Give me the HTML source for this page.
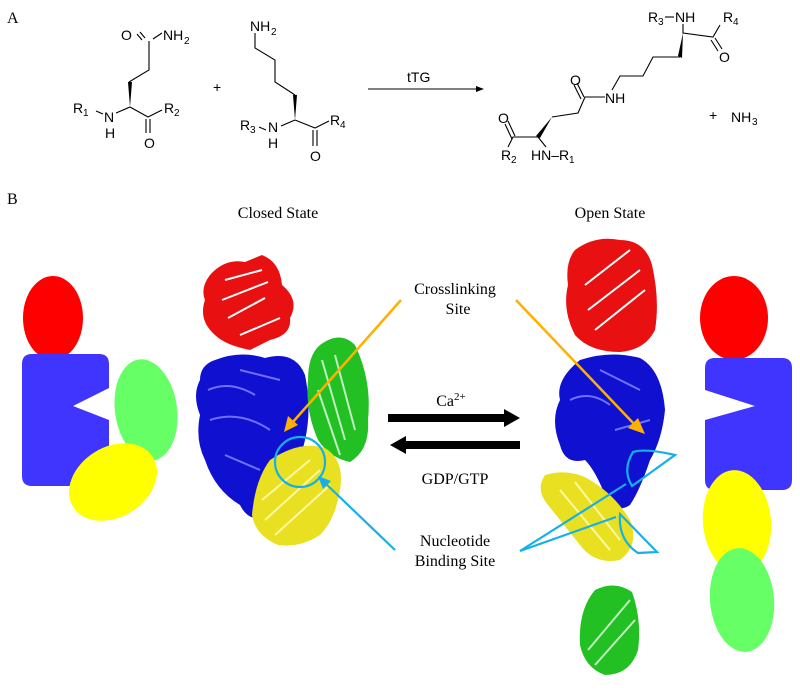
<!DOCTYPE html>
<html><head><meta charset="utf-8"><style>
html,body{margin:0;padding:0;background:#fff;}
svg{display:block;}
.s{font-family:"Liberation Sans",Arial,sans-serif;font-size:14px;fill:#000;}
.r{font-family:"Liberation Serif",serif;font-size:16px;fill:#000;}
.b{stroke:#000;stroke-width:1.1;fill:none;}
</style></head><body>
<svg width="800" height="692" viewBox="0 0 800 692" xmlns="http://www.w3.org/2000/svg">
<text x="7" y="23" class="r">A</text>
<text x="7" y="204" class="r">B</text>

<!-- Molecule 1 -->
<g class="b">
<path d="M149,41 L149,70 L129,82"/>
<path d="M130,107 L116,113"/>
<path d="M130,107 L148,117 L162,110"/>
<path d="M146,119 L146,133 M150,119 L150,133"/>
<path d="M142,40 L137,34 M145,38 L140,32"/>
<path d="M153,39 L162,33"/>
<path d="M96,111 L103,114"/>
</g>
<polygon points="128,82 132,82 130,107" fill="#000"/>
<text x="121" y="40" class="s">O</text><text x="163" y="40" class="s">NH</text><text x="184" y="44" class="s" style="font-size:10px">2</text>
<text x="73" y="113" class="s">R</text><text x="83" y="116" class="s" style="font-size:10px">1</text>
<text x="104" y="122" class="s">N</text><text x="105" y="138" class="s">H</text>
<text x="164" y="113" class="s">R</text><text x="174" y="116" class="s" style="font-size:10px">2</text>
<text x="144" y="148" class="s">O</text>

<text x="213" y="92" class="s">+</text>

<!-- Molecule 2 -->
<g class="b">
<path d="M255,33 L255,48 L275,60 L275,82 L295,95"/>
<path d="M295,120 L281,126"/>
<path d="M295,120 L315,128 L329,121"/>
<path d="M313,130 L313,146 M317,130 L317,146"/>
<path d="M259,127 L266,130"/>
</g>
<polygon points="293,95 297,95 295,120" fill="#000"/>
<text x="250" y="31" class="s">NH</text><text x="271" y="35" class="s" style="font-size:10px">2</text>
<text x="240" y="130" class="s">R</text><text x="250" y="133" class="s" style="font-size:10px">3</text>
<text x="268" y="132" class="s">N</text><text x="268" y="148" class="s">H</text>
<text x="330" y="125" class="s">R</text><text x="340" y="128" class="s" style="font-size:10px">4</text>
<text x="310" y="161" class="s">O</text>

<!-- arrow tTG -->
<line x1="368" y1="89" x2="478" y2="89" stroke="#000" stroke-width="1"/>
<polygon points="484,89 476,86 476,92" fill="#000"/>
<text x="407" y="82" class="s">tTG</text>

<!-- Product -->
<g class="b">
<path d="M665,17 L674,17"/>
<path d="M683,24 L683,33 L713,37 L720,25"/>
<path d="M711,40 L718,51 M715,38 L722,49"/>
<path d="M680,57 L653,57 L643,76 L620,76 L612,90"/>
<path d="M605,97 L585,97 L578,113 L552,117"/>
<path d="M584,97 L577,83 M581,99 L574,85"/>
<path d="M538,137 L513,137 L508,147"/>
<path d="M512,139 L505,124 M515,136 L508,121"/>
<path d="M538,137 L546,147"/>
</g>
<polygon points="683,33 678,56 682,58" fill="#000"/>
<polygon points="552,117 536,136 540,138" fill="#000"/>
<text x="648" y="22" class="s">R</text><text x="658" y="25" class="s" style="font-size:10px">3</text><text x="675" y="22" class="s">NH</text>
<text x="723" y="22" class="s">R</text><text x="733" y="25" class="s" style="font-size:10px">4</text>
<text x="719" y="62" class="s">O</text>
<text x="570" y="85" class="s">O</text>
<text x="605" y="103" class="s">NH</text>
<text x="498" y="123" class="s">O</text>
<text x="501" y="160" class="s">R</text><text x="511" y="163" class="s" style="font-size:10px">2</text>
<text x="531" y="160" class="s">HN–R</text><text x="569" y="163" class="s" style="font-size:10px">1</text>
<text x="709" y="120" class="s">+</text>
<text x="731" y="122" class="s">NH</text><text x="752" y="125" class="s" style="font-size:10px">3</text>

<!-- Labels -->
<text x="278" y="218" class="r" text-anchor="middle">Closed State</text>
<text x="610" y="218" class="r" text-anchor="middle">Open State</text>
<text x="455" y="294" class="r" text-anchor="middle">Crosslinking</text>
<text x="458" y="314" class="r" text-anchor="middle">Site</text>
<text x="451" y="406" class="r" text-anchor="middle">Ca<tspan style="font-size:11px" dy="-6">2+</tspan></text>
<text x="455" y="484" class="r" text-anchor="middle">GDP/GTP</text>
<text x="455" y="546" class="r" text-anchor="middle">Nucleotide</text>
<text x="455" y="566" class="r" text-anchor="middle">Binding  Site</text>

<!-- reversible arrows -->
<rect x="388" y="414" width="116" height="8" fill="#000"/>
<polygon points="520,418 504,409 504,427" fill="#000"/>
<rect x="406" y="441" width="114" height="8" fill="#000"/>
<polygon points="390,445 406,436 406,454" fill="#000"/>

<!-- Left schematic -->
<ellipse cx="53" cy="318" rx="30" ry="42" fill="#ff0000"/>
<path d="M32,354 H99 Q109,354 109,364 V388 L73,406 L109,420 V476 Q109,486 99,486 H32 Q22,486 22,476 V364 Q22,354 32,354 Z" fill="#4035ff"/>
<ellipse cx="146" cy="410" rx="31" ry="51" fill="#66ff66" transform="rotate(-8 146 410)"/>
<ellipse cx="113" cy="482" rx="47" ry="35" fill="#ffff00" transform="rotate(-32 113 482)"/>

<!-- Right schematic -->
<ellipse cx="734" cy="318" rx="34" ry="42" fill="#ff0000"/>
<path d="M715,358 H782 Q792,358 792,368 V480 Q792,490 782,490 H715 Q705,490 705,480 V420 L755,406 L705,390 V368 Q705,358 715,358 Z" fill="#4035ff"/>
<ellipse cx="737" cy="522" rx="34" ry="52" fill="#ffff00" transform="rotate(-5 737 522)"/>
<ellipse cx="742" cy="600" rx="32" ry="52" fill="#66ff66" transform="rotate(-5 742 600)"/>

<!-- Closed protein -->
<g>
<path d="M210,275 Q225,258 245,262 L262,255 Q280,262 282,285 Q300,300 290,318 Q292,335 270,340 L250,350 Q225,345 215,335 Q198,320 205,300 Q200,288 210,275 Z" fill="#e81010"/>
<path d="M225,280 L262,270 M222,300 L268,282 M228,318 L265,298 M240,335 L280,318" stroke="#fff" stroke-width="2" fill="none"/>
<path d="M215,360 Q240,350 265,358 Q295,350 305,375 Q312,410 305,440 Q298,470 290,480 Q280,500 270,515 Q250,525 240,505 Q215,490 205,460 Q195,440 200,415 Q192,395 200,380 Q200,365 215,360 Z" fill="#1010d0"/>
<path d="M208,390 Q230,380 255,395 M210,420 Q240,410 270,430 M225,455 L260,470 M240,370 L280,380" stroke="#7070ff" stroke-width="2" fill="none"/>
<path d="M320,345 Q340,330 355,345 Q372,380 368,420 Q370,450 350,462 Q330,458 318,440 Q305,410 308,380 Q308,355 320,345 Z" fill="#22c022"/>
<path d="M322,360 L345,440 M335,355 L355,430 M318,390 L340,455" stroke="#bff0bf" stroke-width="2" fill="none"/>
<path d="M270,460 Q300,440 325,448 Q345,460 340,490 Q335,520 320,535 Q300,548 278,545 Q255,535 252,515 Q255,480 270,460 Z" fill="#e8e020"/>
<path d="M265,520 L320,470 M275,535 L330,485 M262,500 L310,460" stroke="#fff8a0" stroke-width="2" fill="none"/>
</g>
<!-- Open protein -->
<g>
<path d="M575,250 Q595,235 620,240 Q645,240 652,265 Q660,300 655,330 Q645,350 620,352 Q590,352 575,335 Q562,310 568,285 Q565,262 575,250 Z" fill="#e81010"/>
<path d="M585,285 L630,250 M588,310 L640,270 M595,330 L645,290" stroke="#fff" stroke-width="2" fill="none"/>
<path d="M580,360 Q610,350 640,358 Q662,370 665,410 Q662,440 650,460 Q640,490 630,505 Q615,515 605,495 Q595,470 585,460 Q565,465 560,445 Q550,420 560,400 Q555,380 580,360 Z" fill="#1010d0"/>
<path d="M570,400 Q590,390 610,405 M600,370 L640,390 M615,430 L650,420" stroke="#7070ff" stroke-width="2" fill="none"/>
<path d="M545,475 Q570,468 590,480 Q615,495 630,520 Q640,545 620,560 Q595,565 580,545 Q560,520 548,505 Q535,490 545,475 Z" fill="#e8e020"/>
<path d="M560,490 L610,550 M575,482 L620,540" stroke="#fff8a0" stroke-width="2" fill="none"/>
<path d="M595,590 Q615,580 632,592 Q642,620 638,650 Q630,675 605,675 Q585,668 580,645 Q578,610 595,590 Z" fill="#22c022"/>
<path d="M588,650 L630,600 M595,665 L635,620" stroke="#bff0bf" stroke-width="2" fill="none"/>
</g>

<!-- Orange pointers -->
<line x1="401" y1="300" x2="292" y2="423" stroke="#ffb000" stroke-width="2.5"/>
<polygon points="284,432 288,416 298,425" fill="#ffb000"/>
<line x1="516" y1="300" x2="635" y2="425" stroke="#ffb000" stroke-width="2.5"/>
<polygon points="645,434 628,428 638,418" fill="#ffb000"/>

<!-- Cyan -->
<circle cx="300" cy="462" r="25" fill="none" stroke="#16b0e8" stroke-width="2.2"/>
<line x1="395" y1="550" x2="324" y2="482" stroke="#16b0e8" stroke-width="2.2"/>
<polygon points="318,476 331,481 323,489" fill="#16b0e8"/>
<path d="M633,452 Q645,448 675,455 L632,486 Q622,470 633,452 Z" fill="none" stroke="#16b0e8" stroke-width="2.2"/>
<path d="M620,514 L657,552 L638,553 Q618,540 620,514 Z" fill="none" stroke="#16b0e8" stroke-width="2.2"/>
<line x1="520" y1="551" x2="626" y2="484" stroke="#16b0e8" stroke-width="2.2"/>
<line x1="520" y1="551" x2="616" y2="517" stroke="#16b0e8" stroke-width="2.2"/>
</svg>
</body></html>
